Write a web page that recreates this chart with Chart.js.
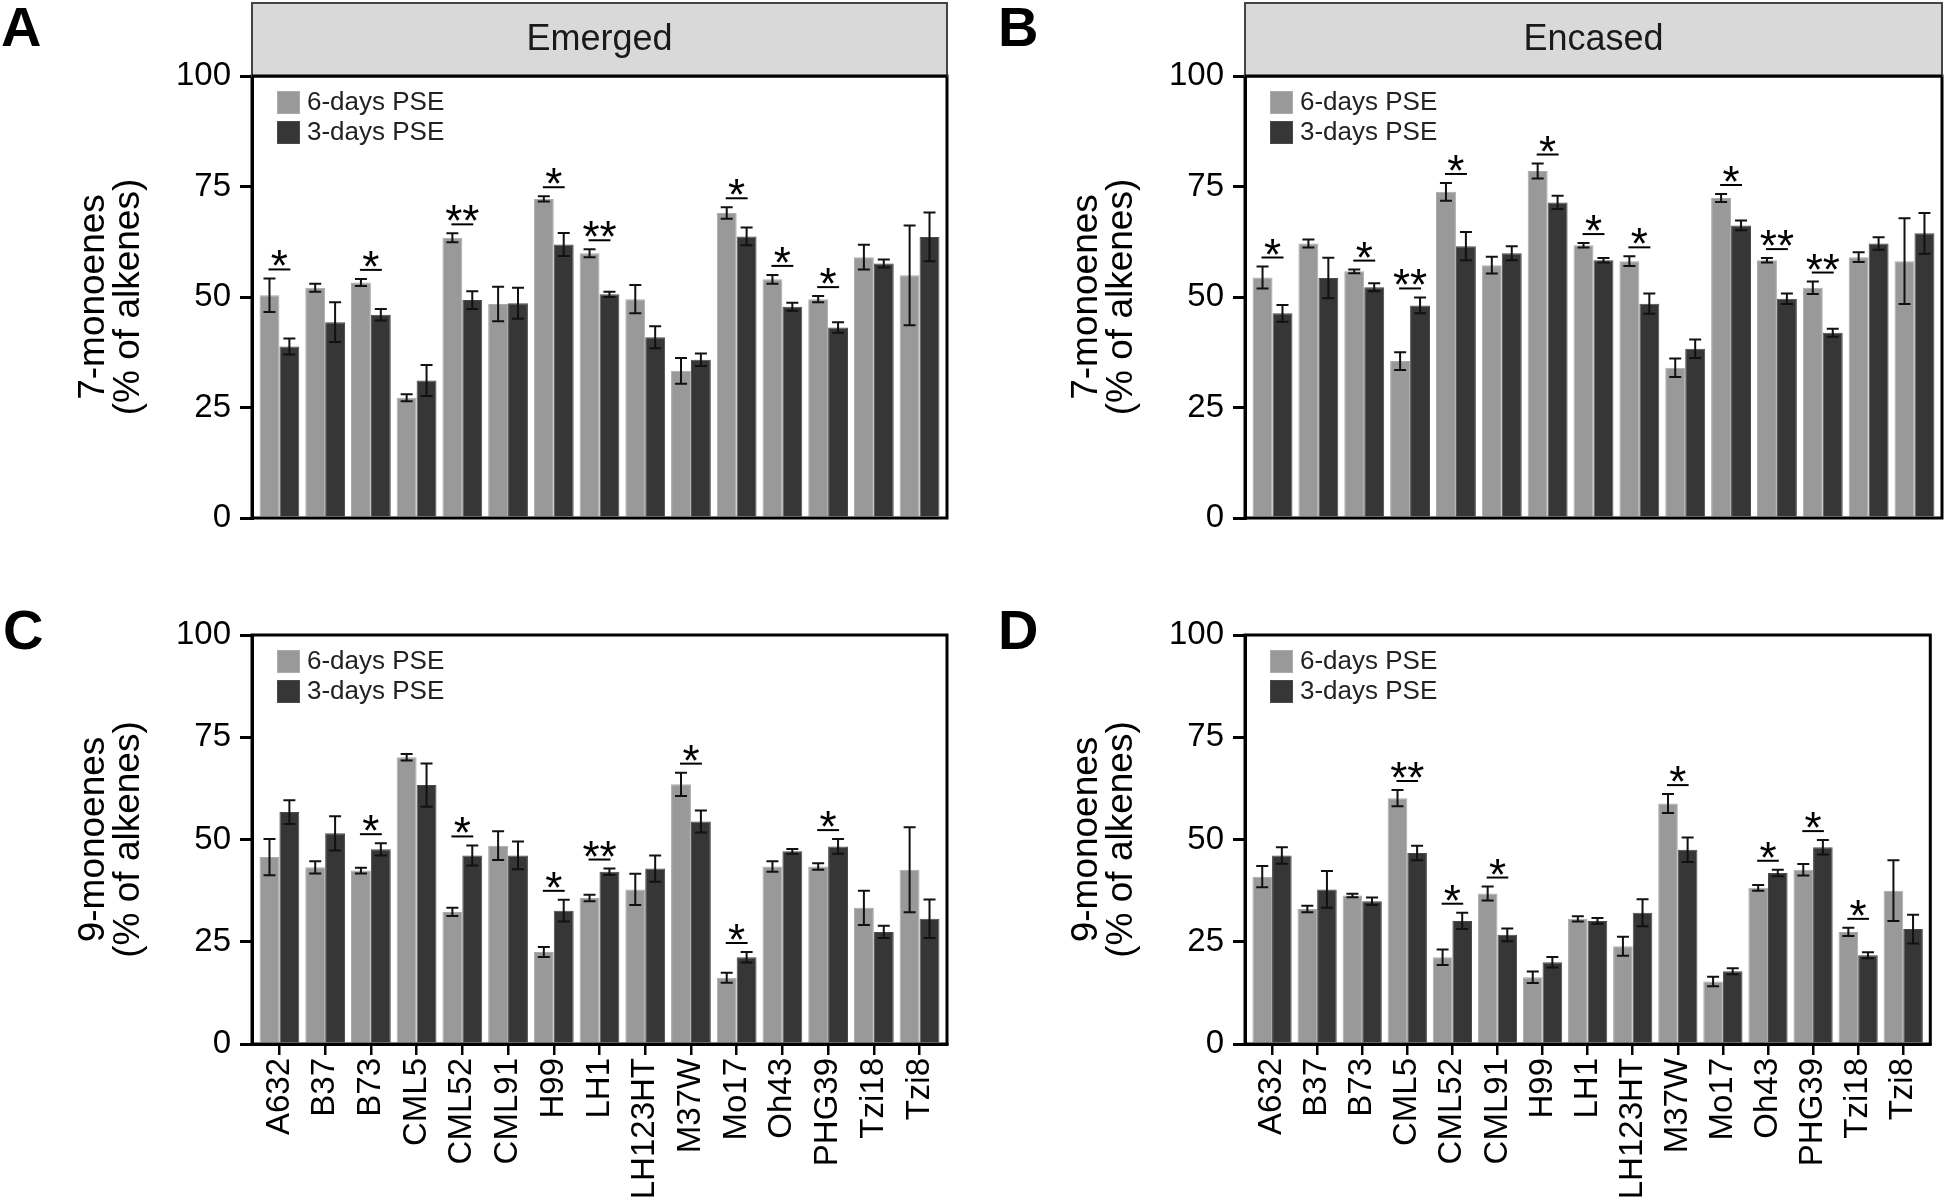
<!DOCTYPE html>
<html>
<head>
<meta charset="utf-8">
<script src="https://cdn.jsdelivr.net/npm/chart.js@4.4.1/dist/chart.umd.min.js"></script>
<style>
html,body{margin:0;padding:0;background:#fff;}
#wrap{position:relative;width:1946px;height:1204px;overflow:hidden;background:#fff;}
canvas{position:absolute;display:block;}
</style>
</head>
<body>
<div id="wrap">
<canvas id="cA" width="973" height="560" style="left:0px;top:0px;width:973px;height:560px"></canvas>
<canvas id="cB" width="973" height="560" style="left:973px;top:0px;width:973px;height:560px"></canvas>
<canvas id="cC" width="973" height="644" style="left:0px;top:560px;width:973px;height:644px"></canvas>
<canvas id="cD" width="973" height="644" style="left:973px;top:560px;width:973px;height:644px"></canvas>
</div>
<script>
// ---------- data ----------
const categories = ['A632','B37','B73','CML5','CML52','CML91','H99','LH1','LH123HT','M37W','Mo17','Oh43','PHG39','Tzi18','Tzi8'];
const seriesLabels = ['6-days PSE', '3-days PSE'];
const yTicks = [0, 25, 50, 75, 100];
const titleTop = ['7-monoenes', '(% of alkenes)'];
const titleBottom = ['9-monoenes', '(% of alkenes)'];
const stripLabels = ['Emerged', 'Encased'];

// A: 7-monoenes, Emerged
const a6    = [50.4, 52.1, 53.3, 27.2, 63.4, 48.4, 72.2, 59.9, 49.5, 33.3, 69.0, 54.0, 49.5, 59.0, 54.9];
const a6err = [3.8, 0.9, 0.8, 0.8, 1.0, 3.9, 0.6, 0.9, 3.2, 2.9, 1.3, 1.0, 0.7, 2.8, 11.3];
const a3    = [38.8, 44.3, 46.0, 31.1, 49.3, 48.6, 61.9, 50.6, 40.9, 35.8, 63.7, 47.8, 43.1, 57.6, 63.6];
const a3err = [1.8, 4.5, 1.3, 3.5, 2.0, 3.5, 2.6, 0.6, 2.5, 1.4, 2.0, 0.9, 1.2, 0.9, 5.5];
const aSig  = ['*','','*','','**','','*','**','','','*','*','*','',''];

// B: 7-monoenes, Encased
const b6    = [54.4, 62.1, 55.8, 35.5, 73.8, 57.2, 78.5, 61.7, 58.1, 34.0, 72.4, 58.3, 52.1, 59.0, 58.1];
const b6err = [2.5, 0.9, 0.4, 2.0, 2.0, 1.9, 1.7, 0.5, 1.1, 2.1, 0.9, 0.5, 1.4, 1.1, 9.7];
const b3    = [46.3, 54.3, 52.2, 48.1, 61.5, 59.9, 71.4, 58.3, 48.5, 38.3, 66.2, 49.6, 41.9, 62.1, 64.4];
const b3err = [1.9, 4.6, 0.9, 1.8, 3.2, 1.6, 1.5, 0.5, 2.3, 2.1, 1.1, 1.2, 0.9, 1.4, 4.6];
const bSig  = ['*','','*','**','*','','*','*','*','','*','**','**','',''];

// C: 9-monoenes, Emerged
const c6    = [45.7, 43.2, 42.4, 70.1, 32.3, 48.5, 22.5, 35.7, 37.8, 63.5, 16.2, 43.4, 43.4, 33.3, 42.6];
const c6err = [4.45, 1.5, 0.7, 0.8, 1.0, 3.5, 1.2, 0.8, 3.8, 2.85, 1.2, 1.3, 0.8, 4.2, 10.4];
const c3    = [56.7, 51.5, 47.6, 63.3, 46.1, 46.1, 32.6, 42.1, 42.9, 54.4, 21.2, 47.1, 48.3, 27.4, 30.6];
const c3err = [2.9, 4.2, 1.5, 5.3, 2.45, 3.4, 2.65, 0.8, 3.2, 2.7, 1.3, 0.6, 1.8, 1.5, 4.7];
const cSig  = ['','','*','','*','','*','**','','*','*','','*','',''];

// D: 9-monoenes, Encased
const d6    = [40.9, 33.0, 36.3, 60.1, 21.2, 36.8, 16.3, 30.6, 23.9, 58.8, 15.3, 38.2, 42.6, 27.4, 37.5];
const d6err = [2.6, 0.8, 0.45, 2.0, 1.9, 1.7, 1.4, 0.65, 2.3, 2.3, 1.15, 0.7, 1.4, 1.0, 7.4];
const d3    = [46.1, 37.8, 34.9, 46.7, 30.1, 26.7, 20.0, 30.1, 32.1, 47.5, 17.8, 41.8, 48.1, 21.7, 28.1];
const d3err = [2.0, 4.5, 0.9, 1.8, 2.0, 1.55, 1.3, 0.7, 3.3, 3.0, 0.75, 0.8, 1.75, 0.75, 3.5];
const dSig  = ['','','','**','*','*','','','','*','','*','*','*',''];

// ---------- rendering ----------
const FONT = "'Liberation Sans', Arial, Helvetica, sans-serif";
Chart.defaults.font.family = FONT;
Chart.defaults.color = '#000';

const COL6 = '#999999', COL6B = '#ababab';
const COL3 = '#363636', COL3B = '#4a4a4a';

function panelPlugin(cfg) {
  return {
    id: 'panel' + cfg.letter,
    afterDatasetsDraw(chart) {
      const ctx = chart.ctx, ca = chart.chartArea, ys = chart.scales.y;
      ctx.save();
      // error bars
      ctx.strokeStyle = '#111';
      ctx.lineWidth = 2;
      const tops = [];
      chart.data.datasets.forEach((ds, k) => {
        const meta = chart.getDatasetMeta(k);
        meta.data.forEach((bar, i) => {
          const v = ds.data[i].y, e = ds.errors[i];
          const yT = ys.getPixelForValue(v + e), yB = ys.getPixelForValue(v - e);
          const x = bar.x, cap = 6;
          ctx.beginPath();
          ctx.moveTo(x, yT); ctx.lineTo(x, yB);
          ctx.moveTo(x - cap, yT); ctx.lineTo(x + cap, yT);
          ctx.moveTo(x - cap, yB); ctx.lineTo(x + cap, yB);
          ctx.stroke();
          tops[i] = Math.min(tops[i] === undefined ? Infinity : tops[i], yT);
        });
      });
      // significance markers
      const m0 = chart.getDatasetMeta(0), m1 = chart.getDatasetMeta(1);
      ctx.fillStyle = '#000';
      ctx.font = '44px ' + FONT;
      ctx.textAlign = 'center';
      ctx.textBaseline = 'alphabetic';
      cfg.sig.forEach((s, i) => {
        if (!s) return;
        const x1 = m0.data[i].x - 1, x2 = m1.data[i].x + 1;
        const ly = tops[i] - 9;
        ctx.beginPath();
        ctx.lineWidth = 2;
        ctx.strokeStyle = '#000';
        ctx.moveTo(x1, ly); ctx.lineTo(x2, ly);
        ctx.stroke();
        ctx.fillText(s, (x1 + x2) / 2, ly + 12);
      });
      // frame
      ctx.lineWidth = 3;
      ctx.strokeStyle = '#000';
      ctx.strokeRect(ca.left, ca.top, ca.right - ca.left, ca.bottom - ca.top);
      ctx.restore();
    },
    afterDraw(chart) {
      const ctx = chart.ctx, ca = chart.chartArea;
      ctx.save();
      // strip header
      if (cfg.strip) {
        const t = 3;
        ctx.fillStyle = '#d9d9d9';
        ctx.fillRect(ca.left, t, ca.right - ca.left, ca.top - t);
        ctx.strokeStyle = '#444';
        ctx.lineWidth = 2;
        ctx.strokeRect(ca.left, t, ca.right - ca.left, ca.top - t);
        ctx.lineWidth = 3;
        ctx.strokeStyle = '#000';
        ctx.beginPath(); ctx.moveTo(ca.left, ca.top); ctx.lineTo(ca.right, ca.top); ctx.stroke();
        ctx.fillStyle = '#1a1a1a';
        ctx.font = '36px ' + FONT;
        ctx.textAlign = 'center';
        ctx.textBaseline = 'middle';
        ctx.fillText(cfg.strip, (ca.left + ca.right) / 2, (t + ca.top) / 2 + 1);
      }
      // legend
      ctx.font = '26px ' + FONT;
      ctx.textAlign = 'left';
      ctx.textBaseline = 'middle';
      chart.data.datasets.forEach((ds, k) => {
        const bx = ca.left + 25, by = ca.top + 15 + k * 30;
        ctx.fillStyle = ds.backgroundColor;
        ctx.fillRect(bx, by, 23, 23);
        ctx.strokeStyle = ds.borderColor;
        ctx.lineWidth = 1;
        ctx.strokeRect(bx + 0.5, by + 0.5, 22, 22);
        ctx.fillStyle = '#222';
        ctx.fillText(ds.label, bx + 30, by + 12);
      });
      // panel letter
      ctx.fillStyle = '#000';
      ctx.font = 'bold 56px ' + FONT;
      ctx.textAlign = 'left';
      ctx.textBaseline = 'alphabetic';
      ctx.fillText(cfg.letter, cfg.letterX, cfg.letterY);
      ctx.restore();
    }
  };
}

function buildPanel(cfg) {
  const datasets = [
    { label: seriesLabels[0], data: cfg.six.map((v, i) => ({ x: i, y: v })), errors: cfg.sixErr,
      backgroundColor: COL6, borderColor: COL6B, borderWidth: 1 },
    { label: seriesLabels[1], data: cfg.three.map((v, i) => ({ x: i, y: v })), errors: cfg.threeErr,
      backgroundColor: COL3, borderColor: COL3B, borderWidth: 1 }
  ];
  new Chart(document.getElementById(cfg.canvas), {
    type: 'bar',
    data: { datasets },
    options: {
      responsive: false,
      animation: false,
      devicePixelRatio: 1,
      layout: { padding: { left: 0, top: cfg.padTop, right: cfg.padRight, bottom: cfg.padBottom } },
      datasets: { bar: { categoryPercentage: 0.87, barPercentage: 1.0, grouped: true } },
      plugins: { legend: { display: false }, tooltip: { enabled: false } },
      scales: {
        x: {
          type: 'linear',
          min: -0.6,
          max: categories.length - 0.4,
          offset: false,
          display: cfg.showX,
          afterBuildTicks: s => { s.ticks = categories.map((_, i) => ({ value: i })); },
          afterFit: s => { if (cfg.showX) s.height = cfg.xHeight; },
          ticks: {
            autoSkip: false, maxRotation: 90, minRotation: 90, padding: 3, color: '#000',
            font: { size: 33 }, includeBounds: false,
            callback: v => categories[v]
          },
          grid: { offset: false, drawOnChartArea: false, drawTicks: true, tickLength: 11, lineWidth: 2.5, color: '#000' },
          border: { display: true, width: 3, color: '#000' }
        },
        y: {
          min: 0,
          max: 100,
          afterBuildTicks: s => { s.ticks = yTicks.map(v => ({ value: v })); },
          afterFit: s => { s.width = cfg.yWidth; },
          ticks: { padding: 9, color: '#000', font: { size: 33 } },
          grid: { drawOnChartArea: false, drawTicks: true, tickLength: 12, lineWidth: 3, color: '#000' },
          border: { display: true, width: 3, color: '#000' },
          title: {
            display: true, text: cfg.yTitle, color: '#000',
            font: { size: 37, lineHeight: 0.95 },
            padding: { top: cfg.titlePad, bottom: 0 }
          }
        }
      }
    },
    plugins: [panelPlugin(cfg)]
  });
}

buildPanel({ canvas: 'cA', letter: 'A', letterX: 1, letterY: 46, strip: stripLabels[0],
  six: a6, sixErr: a6err, three: a3, threeErr: a3err, sig: aSig, yTitle: titleTop,
  padTop: 76, padRight: 26, padBottom: 42, yWidth: 252, titlePad: 76, showX: false });
buildPanel({ canvas: 'cB', letter: 'B', letterX: 25, letterY: 46, strip: stripLabels[1],
  six: b6, sixErr: b6err, three: b3, threeErr: b3err, sig: bSig, yTitle: titleTop,
  padTop: 76, padRight: 4, padBottom: 42, yWidth: 272, titlePad: 96, showX: false });
buildPanel({ canvas: 'cC', letter: 'C', letterX: 3, letterY: 89, strip: null,
  six: c6, sixErr: c6err, three: c3, threeErr: c3err, sig: cSig, yTitle: titleBottom,
  padTop: 75, padRight: 26, padBottom: 0, xHeight: 160, yWidth: 252, titlePad: 76, showX: true });
buildPanel({ canvas: 'cD', letter: 'D', letterX: 25, letterY: 89, strip: null,
  six: d6, sixErr: d6err, three: d3, threeErr: d3err, sig: dSig, yTitle: titleBottom,
  padTop: 75, padRight: 4, padBottom: 0, xHeight: 160, yWidth: 272, titlePad: 96, showX: true });
</script>
</body>
</html>
